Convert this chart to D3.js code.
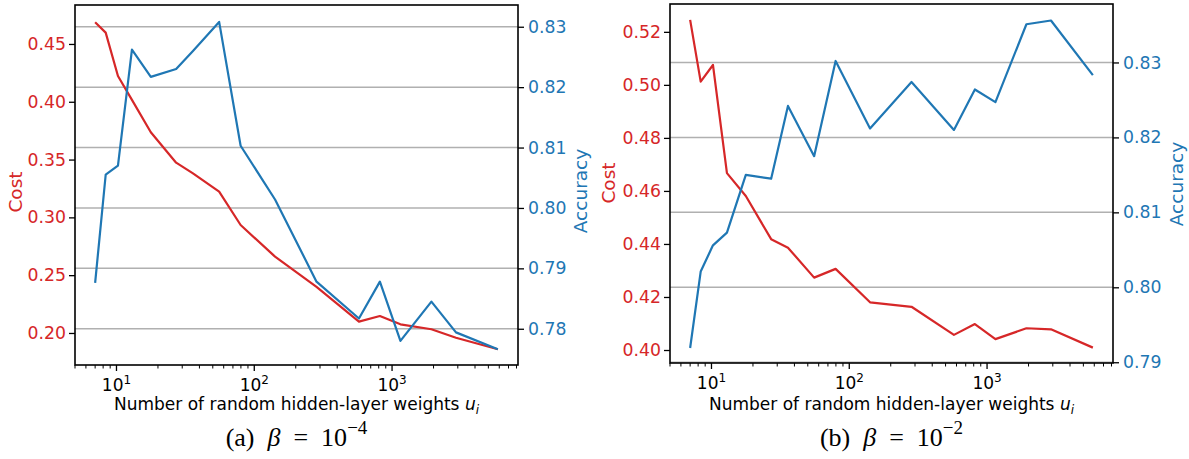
<!DOCTYPE html>
<html>
<head>
<meta charset="utf-8">
<script src="https://cdn.jsdelivr.net/npm/d3@7"></script>
<style>
  html, body { margin: 0; padding: 0; background: #ffffff; }
  svg { display: block; }
</style>
</head>
<body>
<svg id="chart" width="1189" height="459"></svg>
<script>
// ---- data ----
const nValues = [7, 8.35, 10.25, 12.95, 17.75, 27.1, 35.9, 55.6, 79.6, 141.5, 283, 575, 816, 1150, 1930, 2910, 5860];

const costA = [0.4688, 0.4598, 0.4223, 0.4016, 0.3736, 0.3473, 0.3380, 0.3222, 0.2934, 0.2660, 0.2398, 0.2098, 0.2147, 0.2075, 0.2032, 0.1959, 0.1859];
const accA  = [0.7876, 0.8055, 0.8070, 0.8262, 0.8217, 0.8230, 0.8260, 0.8308, 0.8103, 0.8014, 0.7878, 0.7817, 0.7878, 0.7780, 0.7845, 0.7794, 0.7766];

const costB = [0.5245, 0.5012, 0.5075, 0.4667, 0.4581, 0.4418, 0.4386, 0.4273, 0.4306, 0.4180, 0.4163, 0.4057, 0.4098, 0.4041, 0.4082, 0.4078, 0.4009];
const accB  = [0.7919, 0.8021, 0.8056, 0.8073, 0.8150, 0.8145, 0.8242, 0.8175, 0.8302, 0.8212, 0.8274, 0.8210, 0.8264, 0.8247, 0.8351, 0.8356, 0.8283];

const costTicksA = [0.20, 0.25, 0.30, 0.35, 0.40, 0.45];
const accTicksA  = [0.78, 0.79, 0.80, 0.81, 0.82, 0.83];
const costTicksB = [0.40, 0.42, 0.44, 0.46, 0.48, 0.50, 0.52];
const accTicksB  = [0.79, 0.80, 0.81, 0.82, 0.83];
const xTickExps  = [1, 2, 3];

const xLabel = "Number of random hidden-layer weights ";
const captions = [{tag: "(a)", exp: "\u22124"}, {tag: "(b)", exp: "\u22122"}];

// ---- style ----
const RED = "#d62728", BLUE = "#1f77b4";
const FONT = "DejaVu Sans, sans-serif";
const SERIF = "Liberation Serif, serif";

const svg = d3.select("#chart");

const panels = [
  {x0: 75, x1: 518, y0: 5, y1: 365, cost: costA, acc: accA, costDom: [0.1723, 0.4837], accDom: [0.7740, 0.8336],
   costTicks: costTicksA, accTicks: accTicksA, costFmt: d3.format(".2f"), accFmt: d3.format(".2f"),
   costLabelX: 16, costLabelY: 192, accLabelX: 580, accLabelY: 191, cap: captions[0]},
  {x0: 670, x1: 1113, y0: 4, y1: 363, cost: costB, acc: accB, costDom: [0.3951, 0.5305], accDom: [0.7899, 0.8378],
   costTicks: costTicksB, accTicks: accTicksB, costFmt: d3.format(".2f"), accFmt: d3.format(".2f"),
   costLabelX: 609, costLabelY: 183, accLabelX: 1176, accLabelY: 184, cap: captions[1]}
];

// x domain: 5% margins in log space like matplotlib
const lmin = Math.log10(d3.min(nValues)), lmax = Math.log10(d3.max(nValues));
const pad = (lmax - lmin) * 0.05;
const xDom = [Math.pow(10, lmin - pad), Math.pow(10, lmax + pad)];

panels.forEach(p => {
  const g = svg.append("g");
  const x = d3.scaleLog().domain(xDom).range([p.x0, p.x1]);
  const yc = d3.scaleLinear().domain(p.costDom).range([p.y1, p.y0]);
  const ya = d3.scaleLinear().domain(p.accDom).range([p.y1, p.y0]);

  // grid (accuracy axis)
  g.append("g").selectAll("line").data(p.accTicks).join("line")
    .attr("x1", p.x0).attr("x2", p.x1)
    .attr("y1", d => ya(d)).attr("y2", d => ya(d))
    .attr("stroke", "#b0b0b0").attr("stroke-width", 1.5);

  // clip
  const clipId = "clip" + p.x0;
  svg.append("clipPath").attr("id", clipId).append("rect")
    .attr("x", p.x0).attr("y", p.y0).attr("width", p.x1 - p.x0).attr("height", p.y1 - p.y0);

  const lineC = d3.line().x((d, i) => x(nValues[i])).y(d => yc(d));
  const lineA = d3.line().x((d, i) => x(nValues[i])).y(d => ya(d));

  g.append("path").datum(p.cost).attr("d", lineC)
    .attr("fill", "none").attr("stroke", RED).attr("stroke-width", 2.2)
    .attr("stroke-linejoin", "round").attr("clip-path", `url(#${clipId})`);
  g.append("path").datum(p.acc).attr("d", lineA)
    .attr("fill", "none").attr("stroke", BLUE).attr("stroke-width", 2.2)
    .attr("stroke-linejoin", "round").attr("clip-path", `url(#${clipId})`);

  // axes
  const axL = d3.axisLeft(yc).tickValues(p.costTicks).tickFormat(p.costFmt).tickSize(6).tickPadding(3);
  const axR = d3.axisRight(ya).tickValues(p.accTicks).tickFormat(p.accFmt).tickSize(6).tickPadding(4);

  const gl = g.append("g").attr("transform", `translate(${p.x0},0)`).call(axL);
  const gr = g.append("g").attr("transform", `translate(${p.x1},0)`).call(axR);
  [gl, gr].forEach(a => {
    a.select(".domain").remove();
    a.selectAll(".tick line").attr("stroke", "#000").attr("stroke-width", 1.3);
    a.selectAll(".tick text").attr("font-family", FONT).attr("font-size", 17.3);
  });
  gl.selectAll(".tick text").attr("fill", RED);
  gr.selectAll(".tick text").attr("fill", BLUE);

  // x axis: major + minor ticks
  const minor = [];
  for (let e = 0; e <= 4; e++) for (let k = 1; k <= 9; k++) {
    const v = k * Math.pow(10, e);
    if (v >= xDom[0] && v <= xDom[1]) minor.push({v: v, major: k === 1});
  }
  const gx = g.append("g");
  gx.selectAll("line").data(minor).join("line")
    .attr("x1", d => x(d.v)).attr("x2", d => x(d.v))
    .attr("y1", p.y1).attr("y2", d => p.y1 + (d.major ? 6 : 3.5))
    .attr("stroke", "#000").attr("stroke-width", d => d.major ? 1.3 : 1);
  const xt = gx.selectAll("text").data(xTickExps).join("text")
    .attr("x", d => x(Math.pow(10, d)))
    .attr("y", p.y1 + 26)
    .attr("text-anchor", "middle")
    .attr("font-family", FONT).attr("font-size", 17).attr("fill", "#000");
  xt.append("tspan").text("10");
  xt.append("tspan").attr("dy", -7).attr("font-size", 12).text(d => d);

  // spines
  g.append("rect").attr("x", p.x0).attr("y", p.y0)
    .attr("width", p.x1 - p.x0).attr("height", p.y1 - p.y0)
    .attr("fill", "none").attr("stroke", "#000").attr("stroke-width", 1.6);

  // axis labels
  g.append("text").attr("transform", `translate(${p.costLabelX + 6},${p.costLabelY}) rotate(-90)`)
    .attr("text-anchor", "middle").attr("font-family", FONT).attr("font-size", 18.5)
    .attr("fill", RED).text("Cost");
  g.append("text").attr("transform", `translate(${p.accLabelX + 7},${p.accLabelY}) rotate(-90)`)
    .attr("text-anchor", "middle").attr("font-family", FONT).attr("font-size", 18.5)
    .attr("fill", BLUE).text("Accuracy");

  const cx = (p.x0 + p.x1) / 2;
  const xl = g.append("text").attr("x", cx).attr("y", 410)
    .attr("text-anchor", "middle").attr("font-family", FONT).attr("font-size", 17).attr("fill", "#000");
  xl.append("tspan").text(xLabel);
  xl.append("tspan").attr("font-style", "italic").text("u");
  xl.append("tspan").attr("font-style", "italic").attr("font-size", 12).attr("dy", 4).text("i");

  // caption
  const cap = g.append("text").attr("x", cx).attr("y", 446)
    .attr("text-anchor", "middle").attr("font-family", SERIF).attr("font-size", 26).attr("fill", "#000");
  cap.append("tspan").text(p.cap.tag + "\u2002");
  cap.append("tspan").attr("font-style", "italic").text("\u03B2");
  cap.append("tspan").text("\u2002=\u200210");
  cap.append("tspan").attr("font-size", 19).attr("dy", -12).text(p.cap.exp);
});
</script>
</body>
</html>
